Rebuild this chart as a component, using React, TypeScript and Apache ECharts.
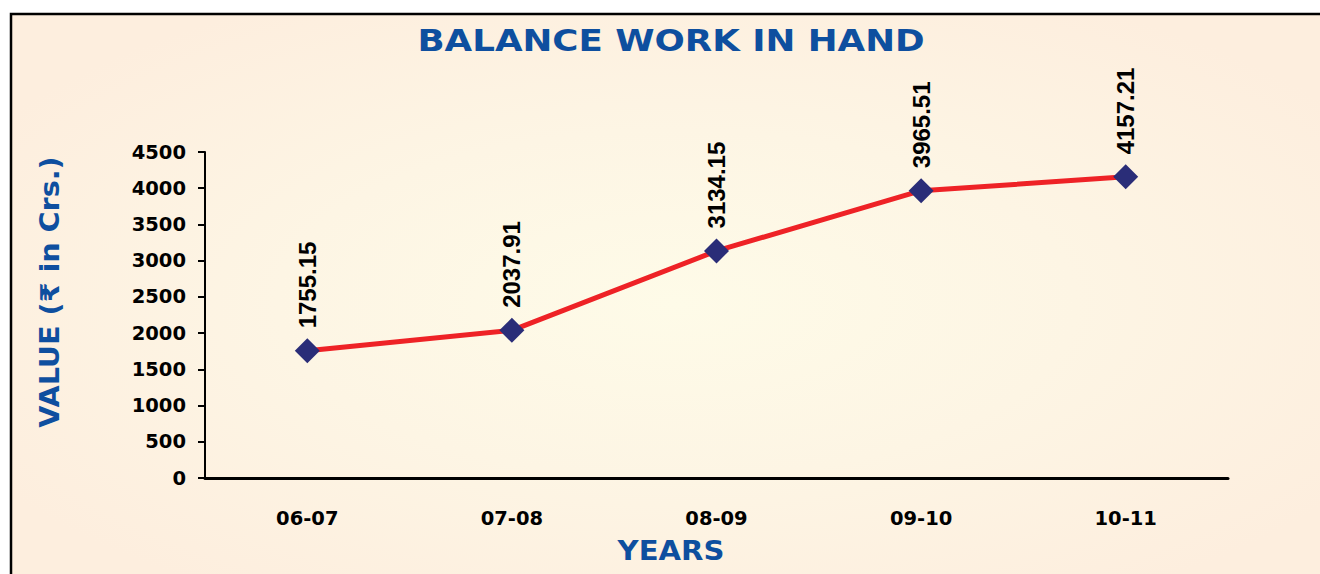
import React, { useEffect, useRef } from "react";
import * as echarts from "echarts";

const categories = ["06-07", "07-08", "08-09", "09-10", "10-11"];
const values = [1755.15, 2037.91, 3134.15, 3965.51, 4157.21];
const titleText = "BALANCE WORK IN HAND";
const yAxisTitle = "VALUE (₹ in Crs.)";
const xAxisTitle = "YEARS";

export default function App() {
  const ref = useRef<HTMLDivElement>(null);
  useEffect(() => {
    if (!ref.current) return;
    const chart = echarts.init(ref.current, null, { renderer: "svg" });
    const blue = "#0e4f9f";
    const wideFont = "'DejaVu Sans', sans-serif";
    chart.setOption({
      animation: false,
      backgroundColor: "#ffffff",
      graphic: [
        {
          type: "rect",
          z: -10,
          silent: true,
          shape: { x: 11, y: 14, width: 1330, height: 580 },
          style: {
            stroke: "#000",
            lineWidth: 2.5,
            fill: {
              type: "radial",
              x: 0.5,
              y: 0.5,
              r: 0.6,
              colorStops: [
                { offset: 0, color: "#fefbe8" },
                { offset: 0.5, color: "#fdf5e4" },
                { offset: 1, color: "#fdeede" },
              ],
            },
          },
        },
        {
          type: "text",
          x: 671,
          y: 40,
          scaleX: 1.15,
          style: {
            text: titleText,
            fill: blue,
            font: "bold 31px " + wideFont,
            textAlign: "center",
            textVerticalAlign: "middle",
          },
        },
        {
          type: "text",
          x: 671,
          y: 551,
          scaleX: 1.12,
          style: {
            text: xAxisTitle,
            fill: blue,
            font: "bold 26px " + wideFont,
            textAlign: "center",
            textVerticalAlign: "middle",
          },
        },
        {
          type: "text",
          x: 50,
          y: 292,
          rotation: Math.PI / 2,
          scaleX: 1.1,
          style: {
            text: yAxisTitle,
            fill: blue,
            font: "bold 26px " + wideFont,
            textAlign: "center",
            textVerticalAlign: "middle",
          },
        },
      ],
      grid: { left: 205, right: 92, top: 152, bottom: 96 },
      xAxis: {
        type: "category",
        data: categories,
        boundaryGap: true,
        axisLine: { lineStyle: { color: "#000", width: 3 } },
        axisTick: { length: 7, lineStyle: { color: "#000", width: 2 } },
        axisLabel: {
          color: "#000",
          fontFamily: wideFont,
          fontWeight: "bold",
          fontSize: 19.5,
          margin: 30,
        },
        splitLine: { show: false },
      },
      yAxis: {
        type: "value",
        min: 0,
        max: 4500,
        interval: 500,
        axisLine: { show: true, lineStyle: { color: "#000", width: 2 } },
        axisTick: { show: true, length: 7, lineStyle: { color: "#000", width: 2 } },
        axisLabel: {
          color: "#000",
          fontFamily: wideFont,
          fontWeight: "bold",
          fontSize: 19.5,
          margin: 19,
          formatter: (v: number) => String(v),
        },
        splitLine: { show: false },
      },
      series: [
        {
          type: "line",
          data: values,
          symbol: "diamond",
          symbolSize: 25,
          itemStyle: { color: "#2a2d78" },
          lineStyle: { color: "#ee2226", width: 5 },
          label: {
            show: true,
            position: "top",
            rotate: 90,
            align: "left",
            verticalAlign: "middle",
            distance: 10,
            color: "#000",
            fontFamily: "'Liberation Sans', Arial, sans-serif",
            fontWeight: "bold",
            fontSize: 24,
            formatter: (p: any) => p.value.toFixed(2),
          },
        },
      ],
    });
    return () => chart.dispose();
  }, []);
  return (
    <div
      ref={ref}
      style={{ position: "fixed", left: 0, top: 0, width: 1320, height: 574 }}
    />
  );
}
